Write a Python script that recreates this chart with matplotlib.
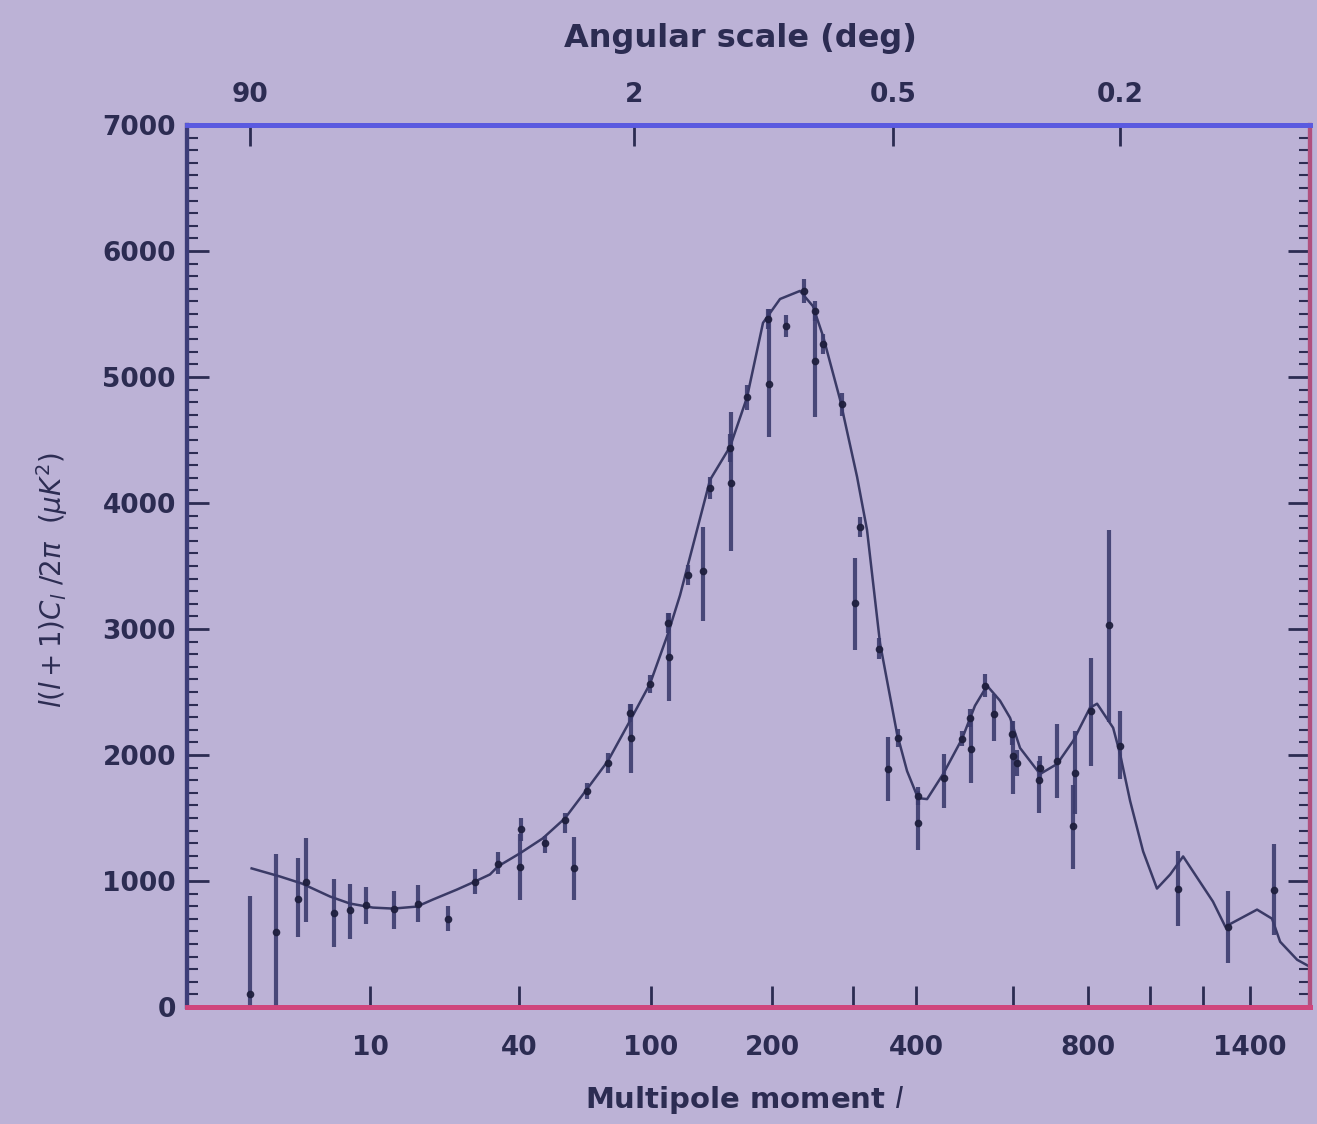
import numpy as np
import matplotlib
matplotlib.use("Agg")
import matplotlib.pyplot as plt
from matplotlib.ticker import MultipleLocator

# ---------------- data ----------------
ell = [2, 3, 4.1, 4.6, 6.6, 8.0, 9.6, 12.9, 16.5, 21.9, 27.8, 33.7,
       40.2, 40.4, 48.7, 56.4, 60.1, 65.8, 75.9, 87.7, 88.2, 99.6,
       111.3, 111.8, 125.4, 136.8, 142.5, 159.5, 160.0, 175.0, 195.9, 196.5,
       215.2, 235.7, 249.1, 249.6, 259.1, 284.2, 302.4, 309.5, 338.1, 352.2,
       368.7, 402.9, 403.5, 451.2, 486.8, 503.5, 504.5, 535.7, 555.6, 597.5,
       600.5, 609.6, 664.4, 668.0, 712.2, 756.8, 762.0, 809.1, 864.4, 899.4,
       1102, 1304, 1512]
power = [106, 598, 861, 996, 749, 773, 813, 781, 821, 701, 996, 1132,
         1110, 1410, 1299, 1482, 1100, 1714, 1937, 2335, 2136, 2566,
         3045, 2780, 3427, 3460, 4120, 4438, 4160, 4838, 5459, 4941,
         5404, 5683, 5523, 5125, 5260, 4782, 3204, 3810, 2845, 1889,
         2136, 1674, 1458, 1817, 2128, 2295, 2048, 2550, 2327, 2168,
         1990, 1937, 1800, 1900, 1953, 1435, 1860, 2351, 3029, 2072,
         940, 638, 932]
err_lo = [106, 598, 303, 319, 271, 231, 152, 159, 144, 100, 100, 80,
          260, 90, 75, 100, 250, 65, 80, 70, 280, 70,
          80, 350, 80, 400, 90, 110, 540, 100, 80, 420,
          90, 95, 80, 440, 80, 90, 370, 80, 80, 255,
          70, 70, 210, 240, 60, 70, 270, 90, 215, 90,
          300, 100, 260, 90, 295, 340, 330, 440, 770, 260,
          300, 290, 360]
err_hi = [771, 613, 319, 343, 263, 207, 143, 136, 151, 100, 100, 100,
          260, 90, 60, 60, 250, 65, 80, 70, 270, 70,
          80, 345, 80, 350, 90, 110, 560, 100, 80, 600,
          90, 95, 80, 410, 80, 90, 360, 80, 80, 250,
          70, 70, 255, 190, 60, 70, 250, 90, 160, 100,
          280, 100, 150, 90, 295, 330, 330, 420, 760, 280,
          300, 280, 360]

curve_ell = [2.04, 3.17, 4.33, 6.25, 7.96, 10.33, 12.81, 16.32, 19.04, 23.73,
             27.79, 31.55, 33.7, 40.2, 47.9, 56.35, 65.8, 75.9, 87.7, 99.6,
             111.3, 119.6, 142.5, 159.5, 175.0, 190.7, 208.5, 230.9, 246.4, 259.1,
             281.4, 305.2, 319.8, 339.7, 367.0, 383.8, 402.9, 419.2, 449.3, 486.8,
             513.8, 540.0, 569.2, 592.7, 616.6, 666.9, 712.2, 756.8, 805.9, 827.2,
             877.1, 899.4, 932.5, 976.4, 1025, 1073, 1121.6, 1240, 1291.7, 1432,
             1502, 1541, 1625, 1691]
curve_pow = [1100, 1036, 980, 877, 821, 789, 781, 797, 853, 932,
             996, 1052, 1116, 1220, 1339, 1498, 1729, 1953, 2271, 2566,
             2965, 3268, 4184, 4447, 4838, 5430, 5619, 5683, 5563, 5324,
             4822, 4208, 3786, 2885, 2168, 1873, 1658, 1650, 1849, 2128,
             2391, 2550, 2431, 2295, 2056, 1849, 1929, 2112, 2375, 2407,
             2216, 2008, 1634, 1235, 940, 1052, 1195, 837, 638, 773,
             701, 518, 375, 319]

xtick_vals = [10, 40, 100, 200, 300, 400, 600, 800, 1000, 1200, 1400]
xtick_labels = ['10', '40', '100', '200', '', '400', '', '800', '', '', '1400']
top_angles = [90, 2, 0.5, 0.2]
top_labels = ['90', '2', '0.5', '0.2']
ytick_vals = [0, 1000, 2000, 3000, 4000, 5000, 6000, 7000]

# ---------------- styling ----------------
BG = '#bcb2d6'
INK = '#2c2c52'
BAR = '#3b3b6e'

W, H = 1317, 1124
fig = plt.figure(figsize=(W / 100, H / 100), dpi=100, facecolor=BG)
L, R, T, B = 187, 1310, 125, 1007
ax = fig.add_axes([L / W, 1 - B / H, (R - L) / W, (B - T) / H], facecolor=BG)

fwd = lambda x: np.sign(x) * np.abs(x) ** 0.25
inv = lambda y: np.sign(y) * np.abs(y) ** 4
ax.set_xscale('function', functions=(fwd, inv))
ax.set_xlim(0.59, 1691)
ax.set_ylim(0, 7000)

ax.plot(curve_ell, curve_pow, color='#3a3a66', lw=1.8, zorder=2)
ax.errorbar(ell, power, yerr=[err_lo, err_hi], fmt='o', ms=4.5,
            color='#1e1e3c', ecolor=BAR, elinewidth=3, capsize=0,
            alpha=0.9, zorder=3, clip_on=True)

# ticks
tick_font = dict(fontsize=19, fontweight='bold', color=INK)
ax.set_xticks(xtick_vals)
ax.set_xticklabels(xtick_labels, **tick_font)
ax.xaxis.set_minor_locator(plt.NullLocator())
ax.set_yticks(ytick_vals)
ax.set_yticklabels([str(v) for v in ytick_vals], **tick_font)
ax.yaxis.set_minor_locator(MultipleLocator(100))
ax.tick_params(axis='x', which='major', direction='in', length=15, width=2,
               color=INK, pad=20, top=False)
ax.tick_params(axis='y', which='major', direction='in', length=16, width=2,
               color=INK, pad=8, right=True)
ax.tick_params(axis='y', which='minor', direction='in', length=8, width=1.5,
               color=INK, right=True)

# top axis: angular scale (same l-scale, ticks at l = 180/theta)
top = ax.twiny()
top.set_xscale('function', functions=(fwd, inv))
top.set_xlim(ax.get_xlim())
top.set_xticks([180.0 / a for a in top_angles])
top.set_xticklabels(top_labels, **tick_font)
top.xaxis.set_minor_locator(plt.NullLocator())
top.tick_params(axis='x', direction='in', length=15, width=2, color=INK, pad=12)
top.patch.set_visible(False)

for a in (ax, top):
    for side, col, lw in [('top', '#5a5ae0', 3.5), ('bottom', '#d0457c', 3.5),
                          ('left', '#3c3c78', 3), ('right', '#b0507e', 3)]:
        a.spines[side].set_color(col)
        a.spines[side].set_linewidth(lw)

# labels
fig.text(740 / W, 1 - 38 / H, 'Angular scale (deg)', ha='center', va='center',
         fontsize=23, fontweight='bold', color=INK)
fig.text(745 / W, 1 - 1100 / H, r'Multipole moment $l$', ha='center', va='center',
         fontsize=21, fontweight='bold', color=INK)
fig.text(52 / W, 1 - 580 / H, r'$l(l+1)C_l\ /2\pi\ \ (\mu K^2)$', ha='center',
         va='center', rotation=90, fontsize=20, color=INK)

fig.savefig('out.png', dpi=100, facecolor=BG)
